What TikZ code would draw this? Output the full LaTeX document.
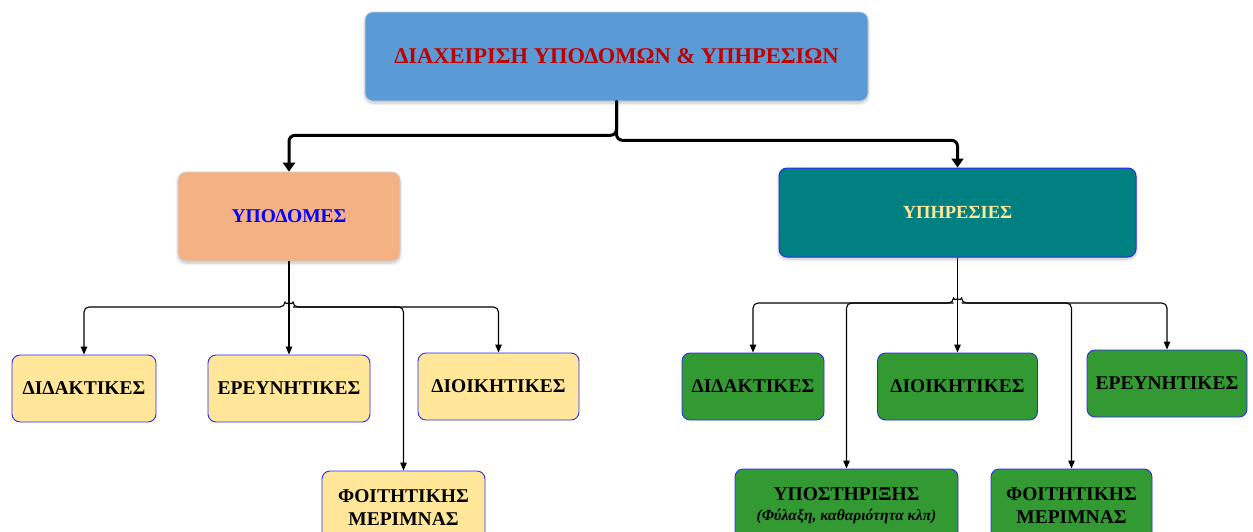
\documentclass[tikz,border=0pt]{standalone}
\usepackage{fontspec}
\setmainfont{Liberation Serif}
\usetikzlibrary{arrows.meta,shadows.blur}

\definecolor{headfill}{HTML}{5B9BD5}
\definecolor{headtext}{HTML}{C00000}
\definecolor{infrafill}{HTML}{F4B183}
\definecolor{servfill}{HTML}{008080}
\definecolor{servtext}{HTML}{FFE699}
\definecolor{paleyellow}{HTML}{FFE699}
\definecolor{leafgreen}{HTML}{339933}
\definecolor{edgeblue}{HTML}{2A2AF5}
\definecolor{softedge}{HTML}{C9D3E0}

\begin{document}
\begin{tikzpicture}[x=1pt,y=-1pt,
  box/.style={rectangle, rounded corners=8pt, inner sep=2pt, align=center,
    font=\fontsize{19.5}{23}\selectfont\bfseries},
  soft/.style={blur shadow={shadow xshift=0pt, shadow yshift=-2pt,
    shadow blur steps=6, shadow opacity=25, shadow blur radius=3pt}},
  headbox/.style={box, soft, fill=headfill, draw=softedge, line width=0.6pt,
    text=headtext, font=\fontsize{22.5}{25}\selectfont\bfseries},
  infrabox/.style={box, soft, fill=infrafill, draw=softedge, line width=0.6pt, text=blue},
  servbox/.style={box, soft, fill=servfill, draw=edgeblue, line width=1pt, text=servtext,
    font=\fontsize{18.5}{22}\selectfont\bfseries},
  yellowbox/.style={box, fill=paleyellow, draw=edgeblue, line width=0.9pt, text=black},
  greenbox/.style={box, fill=leafgreen, draw=edgeblue, line width=0.9pt, text=black},
  bigarrow/.style={line width=3pt, rounded corners=6pt, line cap=round,
    -{Triangle[length=9pt,width=12pt]}},
  conn/.style={line width=1.1pt, rounded corners=5pt, -{Triangle[length=8pt,width=6.5pt]}},
  busline/.style={line width=1.1pt, rounded corners=5pt,
    {Triangle[length=8pt,width=6.5pt]}-{Triangle[length=8pt,width=6.5pt]}}
]
\useasboundingbox (0,0) rectangle (1253,531);
\clip (0,0) rectangle (1253,531);

% root
\node[headbox, minimum width=503pt, minimum height=89pt] (root) at (616.5,56.5)
  {ΔΙΑΧΕΙΡΙΣΗ ΥΠΟΔΟΜΩΝ \& ΥΠΗΡΕΣΙΩΝ};

% second level
\node[infrabox, minimum width=222pt, minimum height=89pt] (infra) at (289,216.5) {ΥΠΟΔΟΜΕΣ};
\node[servbox, minimum width=357pt, minimum height=89pt] (serv) at (957.5,212.5) {ΥΠΗΡΕΣΙΕΣ};

% infrastructure children
\node[yellowbox, minimum width=144pt, minimum height=67pt] (iteach) at (84,388.5) {ΔΙΔΑΚΤΙΚΕΣ};
\node[yellowbox, minimum width=162pt, minimum height=67pt] (iresearch) at (289,388.5) {ΕΡΕΥΝΗΤΙΚΕΣ};
\node[yellowbox, minimum width=161pt, minimum height=67pt] (iadmin) at (498.5,386.5) {ΔΙΟΙΚΗΤΙΚΕΣ};
\node[yellowbox, minimum width=163pt, minimum height=74pt] (istudent) at (403.5,508)
  {ΦΟΙΤΗΤΙΚΗΣ\\ΜΕΡΙΜΝΑΣ};

% services children
\node[greenbox, minimum width=142pt, minimum height=67pt] (steach) at (753,386.5) {ΔΙΔΑΚΤΙΚΕΣ};
\node[greenbox, minimum width=160pt, minimum height=67pt] (sadmin) at (957.5,386.5) {ΔΙΟΙΚΗΤΙΚΕΣ};
\node[greenbox, minimum width=160pt, minimum height=67pt] (sresearch) at (1167,383.5) {ΕΡΕΥΝΗΤΙΚΕΣ};
\node[greenbox, minimum width=223pt, minimum height=74pt] (ssupport) at (846.5,506)
  {ΥΠΟΣΤΗΡΙΞΗΣ\\[-3pt]{\fontsize{15.5}{17}\selectfont\itshape (Φύλαξη, καθαριότητα κλπ)}};
\node[greenbox, minimum width=161pt, minimum height=74pt] (sstudent) at (1071.5,506)
  {ΦΟΙΤΗΤΙΚΗΣ\\ΜΕΡΙΜΝΑΣ};

% root to second level
\draw[bigarrow] (root.south) -- ++(0,34) -| (infra.north);
\draw[bigarrow] (root.south) -- ++(0,39) -| (serv.north);

% infrastructure bus with a hop over the trunk
\coordinate (ihopL) at (285,307);
\coordinate (ihopR) at (293,307);
\draw[conn] (infra.south) -- (iresearch.north);
\draw[busline] (iteach.north) |- (ihopL) arc[start angle=180,end angle=360,radius=4] -| (iadmin.north);
\draw[conn] (ihopR) -| (istudent.north);

% services bus with a hop over the trunk
\coordinate (shopL) at (953.5,303);
\coordinate (shopR) at (961.5,303);
\draw[conn] (serv.south) -- (sadmin.north);
\draw[busline] (steach.north) |- (shopL) arc[start angle=180,end angle=360,radius=4] -| (sresearch.north);
\draw[conn] (shopL) -| (ssupport.north);
\draw[conn] (shopR) -| (sstudent.north);
\end{tikzpicture}
\end{document}
